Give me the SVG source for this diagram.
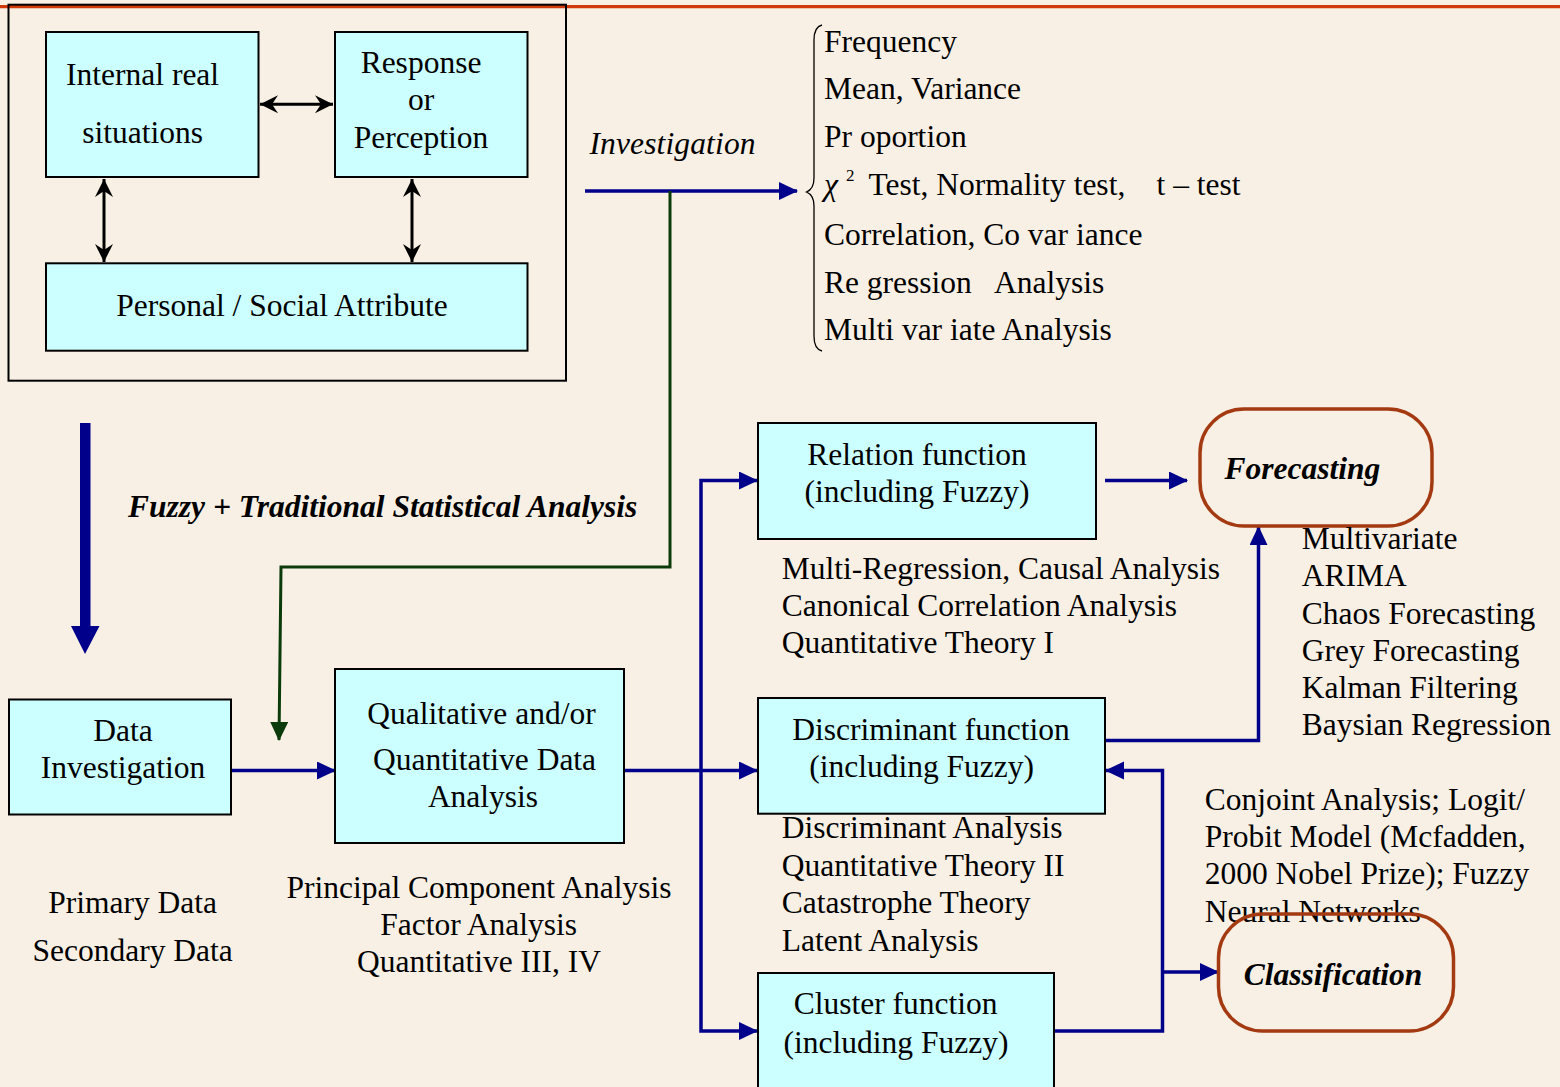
<svg xmlns="http://www.w3.org/2000/svg" width="1560" height="1087" viewBox="0 0 1560 1087">
<defs>
<style>
text{font-family:"Liberation Serif","Times New Roman",serif;font-size:31.5px;fill:#000}
.it{font-style:italic}
.bi{font-style:italic;font-weight:bold}
.box{fill:#CCFFFF;stroke:#000;stroke-width:2}
.oval{fill:none;stroke:#A33A12;stroke-width:3.5}
.blue{fill:none;stroke:#00008A;stroke-width:3.5}
.green{fill:none;stroke:#0B3B0B;stroke-width:3}
.blk{fill:none;stroke:#000;stroke-width:3}
.mid{text-anchor:middle}
</style>
<marker id="ab" markerUnits="userSpaceOnUse" markerWidth="19" markerHeight="19" refX="18" refY="9" orient="auto"><path d="M0,0 L19,9 L0,18 Z" fill="#00008A"/></marker>
<marker id="ag" markerUnits="userSpaceOnUse" markerWidth="19" markerHeight="19" refX="18" refY="9" orient="auto"><path d="M0,0 L19,9 L0,18 Z" fill="#0B3B0B"/></marker>
<marker id="ak" markerUnits="userSpaceOnUse" markerWidth="20" markerHeight="20" refX="18" refY="10" orient="auto-start-reverse"><path d="M0,1 L18,10 L0,19 L6,10 Z" fill="#000"/></marker>
</defs>
<rect x="0" y="0" width="1560" height="1087" fill="#F8F0E4"/>
<line x1="0" y1="6.7" x2="1560" y2="6.7" stroke="#D33A0B" stroke-width="3.2"/>
<g id="outer-frame"><rect x="8.5" y="4.7" width="557.5" height="376" fill="none" stroke="#000" stroke-width="2"/></g>

<g id="connectors">
<path class="blk" d="M260,104.3 H333" marker-start="url(#ak)" marker-end="url(#ak)"/>
<path class="blk" d="M104,179 V262" marker-start="url(#ak)" marker-end="url(#ak)"/>
<path class="blk" d="M412,179 V262" marker-start="url(#ak)" marker-end="url(#ak)"/>
<path class="blue" d="M585,191 H797" marker-end="url(#ab)"/>
<path class="green" d="M670,191 V567 H281 L279,740" marker-end="url(#ag)"/>
<path d="M80,423 H90.5 V626 H99.5 L85,654 L71,626 H80 Z" fill="#00008A"/>
<path class="blue" d="M231,770.5 H335" marker-end="url(#ab)"/>
<path class="blue" d="M624,770.5 H757" marker-end="url(#ab)"/>
<path class="blue" d="M701,770.5 V480.5 H757" marker-end="url(#ab)"/>
<path class="blue" d="M701,770.5 V1031 H757" marker-end="url(#ab)"/>
<path class="blue" d="M1105,480.5 H1187" marker-end="url(#ab)"/>
<path class="blue" d="M1105,740.5 H1258.5 V527" marker-end="url(#ab)"/>
<path class="blue" d="M1054,1031 H1162.5 V770.5 H1106" marker-end="url(#ab)"/>
<path class="blue" d="M1162.5,972 H1218" marker-end="url(#ab)"/>
</g>

<g id="internal-real">
<rect class="box" x="46" y="32" width="212.5" height="145"/>
<text class="mid" x="142.6" y="85">Internal real</text>
<text class="mid" x="142.6" y="142.7">situations</text>
</g>
<g id="response">
<rect class="box" x="335" y="32" width="192.5" height="145"/>
<text class="mid" x="421" y="73">Response</text>
<text class="mid" x="421" y="110">or</text>
<text class="mid" x="421" y="148">Perception</text>
</g>
<g id="personal-social">
<rect class="box" x="46" y="263.3" width="481.5" height="87.4"/>
<text class="mid" x="282" y="316">Personal / Social Attribute</text>
</g>

<g id="investigation-label"><text class="it" x="589.5" y="153.5" textLength="166">Investigation</text></g>

<g id="stat-list">
<path d="M822,25 Q814,27 814,40 V178 Q814,189 806.5,192 Q814,195 814,206 V336 Q814,349 822,351" fill="none" stroke="#000" stroke-width="1.3"/>
<text x="824" y="52">Frequency</text>
<text x="824" y="99">Mean, Variance</text>
<text x="824" y="147">Pr oportion</text>
<text class="it" x="824" y="195">χ</text>
<text x="846" y="181" style="font-size:17px">2</text>
<text x="868.5" y="195">Test, Normality test,</text>
<text x="1156.5" y="195">t – test</text>
<text x="824" y="245">Correlation, Co var iance</text>
<text x="824" y="293">Re gression</text>
<text x="994" y="293">Analysis</text>
<text x="824" y="340">Multi var iate Analysis</text>
</g>

<g id="fuzzy-label"><text class="bi" x="128" y="517">Fuzzy + Traditional Statistical Analysis</text></g>

<g id="data-investigation">
<rect class="box" x="9" y="699.5" width="222" height="115"/>
<text class="mid" x="123" y="741">Data</text>
<text class="mid" x="123" y="778">Investigation</text>
</g>
<g id="data-sources">
<text class="mid" x="132.6" y="913">Primary Data</text>
<text class="mid" x="132.6" y="961">Secondary Data</text>
</g>

<g id="qualitative">
<rect class="box" x="335" y="669" width="289" height="174"/>
<text class="mid" x="481.5" y="723.5">Qualitative and/or</text>
<text class="mid" x="484.6" y="770">Quantitative Data</text>
<text class="mid" x="483" y="807">Analysis</text>
</g>
<g id="qualitative-methods">
<text class="mid" x="479" y="898">Principal Component Analysis</text>
<text class="mid" x="478.6" y="935">Factor Analysis</text>
<text class="mid" x="479" y="972">Quantitative III, IV</text>
</g>

<g id="relation">
<rect class="box" x="758" y="423" width="338" height="116"/>
<text class="mid" x="917" y="465">Relation function</text>
<text class="mid" x="917" y="502">(including Fuzzy)</text>
</g>
<g id="relation-methods">
<text x="781.7" y="579">Multi-Regression, Causal Analysis</text>
<text x="781.7" y="615.6">Canonical Correlation Analysis</text>
<text x="781.7" y="653.3">Quantitative Theory I</text>
</g>

<g id="forecasting">
<rect class="oval" x="1200" y="409" width="232" height="117" rx="44" ry="44"/>
<text class="bi" x="1224.5" y="479">Forecasting</text>
</g>
<g id="forecasting-methods">
<text x="1301.7" y="549">Multivariate</text>
<text x="1301.7" y="586">ARIMA</text>
<text x="1301.7" y="623.5">Chaos Forecasting</text>
<text x="1301.7" y="660.7">Grey Forecasting</text>
<text x="1301.7" y="698">Kalman Filtering</text>
<text x="1301.7" y="735">Baysian Regression</text>
</g>

<g id="discriminant">
<rect class="box" x="758" y="698" width="347" height="115.7"/>
<text class="mid" x="931" y="739.6">Discriminant function</text>
<text class="mid" x="921.6" y="777">(including Fuzzy)</text>
</g>
<g id="discriminant-methods">
<text x="781.7" y="838">Discriminant Analysis</text>
<text x="781.7" y="875.5">Quantitative Theory II</text>
<text x="781.7" y="912.7">Catastrophe Theory</text>
<text x="781.7" y="951">Latent Analysis</text>
</g>

<g id="classification-methods">
<text x="1204.7" y="809.7">Conjoint Analysis; Logit/</text>
<text x="1204.7" y="847">Probit Model (Mcfadden,</text>
<text x="1204.7" y="884">2000 Nobel Prize); Fuzzy</text>
<text x="1204.7" y="921.5">Neural Networks</text>
</g>
<g id="classification">
<rect class="oval" x="1218.5" y="914" width="235" height="117" rx="44" ry="44"/>
<text class="bi mid" x="1333" y="985">Classification</text>
</g>

<g id="cluster">
<rect class="box" x="758" y="973" width="296" height="130"/>
<text class="mid" x="895.6" y="1013.5">Cluster function</text>
<text class="mid" x="896" y="1053">(including Fuzzy)</text>
</g>
</svg>
